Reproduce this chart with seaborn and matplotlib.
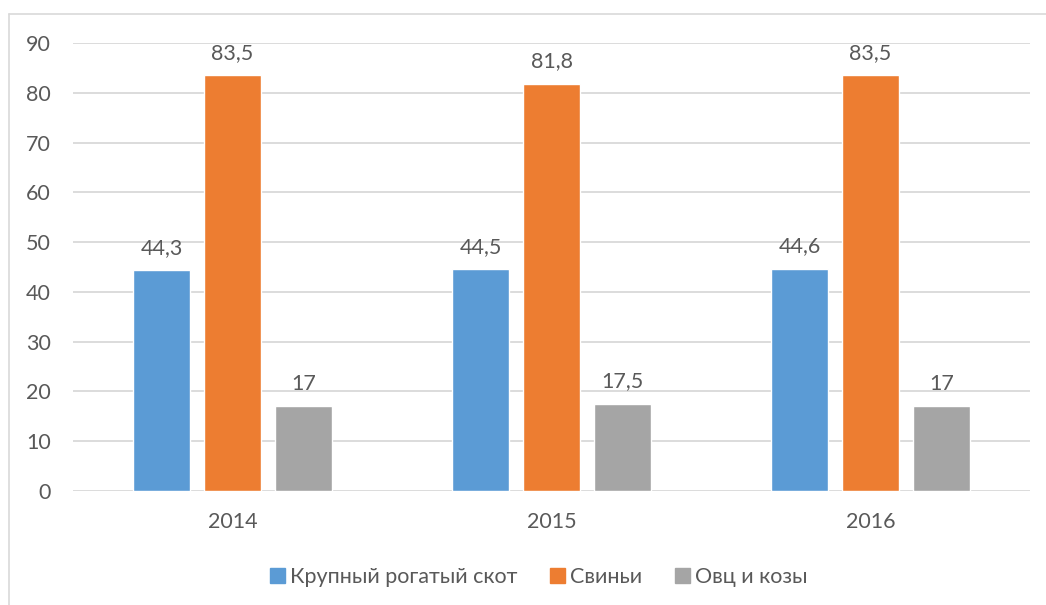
import matplotlib.pyplot as plt
import matplotlib.lines as mlines
import pandas as pd
import seaborn as sns

years = ["2014", "2015", "2016"]
cattle = [44.3, 44.5, 44.6]
pigs = [83.5, 81.8, 83.5]
sheep = [17, 17.5, 17]
series = ["Крупный рогатый скот", "Свиньи", "Овц и козы"]
colors = ["#5B9BD5", "#ED7D31", "#A5A5A5"]

df = pd.DataFrame({
    "year": years * 3,
    "value": cattle + pigs + sheep,
    "kind": [s for s in series for _ in years],
})

sns.set_style("white")
plt.rcParams["font.family"] = ["Lato", "DejaVu Sans"]
text_col = "#595959"
fs = 15.5

fig = plt.figure(figsize=(10.46, 6.05), dpi=100)
ax = fig.add_axes([0.0698, 0.1884, 0.9149, 0.7406])

sns.barplot(data=df, x="year", y="value", hue="kind", palette=colors,
            width=0.668, gap=0.21, saturation=1, ax=ax, legend=False)

def fmt(v):
    s = f"{v:g}"
    return s.replace(".", ",")

for cont in ax.containers:
    ax.bar_label(cont, labels=[fmt(v) for v in cont.datavalues], padding=9,
                 fontsize=fs, color=text_col)

ax.set_xlim(-0.5, 2.5)
ax.set_ylim(0, 90)
ax.set_yticks(range(0, 91, 10))
ax.yaxis.grid(True, color="#D9D9D9", linewidth=1.3)
ax.set_axisbelow(True)
for sp in ax.spines.values():
    sp.set_visible(False)
ax.tick_params(axis="y", length=0, pad=16, labelsize=fs, labelcolor=text_col)
ax.tick_params(axis="x", length=0, pad=15, labelsize=fs, labelcolor=text_col)
ax.set_xlabel("")
ax.set_ylabel("")

handles = [plt.Rectangle((0, 0), 1, 1, color=c) for c in colors]
fig.legend(handles, series, loc="center", bbox_to_anchor=(0.515, 0.046), ncol=3,
           frameon=False, fontsize=fs, handlelength=0.7, handleheight=0.7,
           handletextpad=0.25, columnspacing=1.5, labelcolor=text_col)

# chart border (cropped frame)
fig.add_artist(mlines.Line2D([0.009, 0.009], [0, 0.977], color="#D9D9D9", linewidth=1.2))
fig.add_artist(mlines.Line2D([0.009, 1], [0.977, 0.977], color="#D9D9D9", linewidth=1.2))

fig.savefig("out.png", dpi=100)
